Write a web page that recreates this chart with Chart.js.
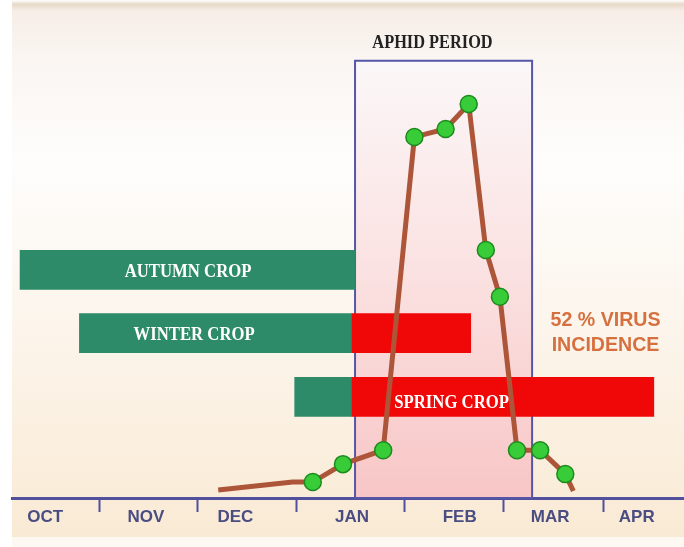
<!DOCTYPE html>
<html>
<head>
<meta charset="utf-8">
<script src="https://cdn.jsdelivr.net/npm/chart.js@4.4.1/dist/chart.umd.min.js"></script>
<style>
  body { margin: 0; background: #fff; }
  canvas { display: block; }
</style>
</head>
<body>
<canvas id="aphidChart" width="684" height="547"></canvas>
<script>
// x is in months from the start of October, y is relative aphid numbers (0-100)
const months = ['OCT', 'NOV', 'DEC', 'JAN', 'FEB', 'MAR', 'APR'];
const monthLabelPos = [0.45, 1.45, 2.34, 3.50, 4.57, 5.47, 6.33];
const monthTicks = [0.99, 1.96, 2.95, 4.02, 5.01, 6.0];

const aphidX = [2.17, 2.91, 3.11, 3.41, 3.81, 4.12, 4.43, 4.66, 4.83, 4.97, 5.14, 5.37, 5.62, 5.70];
const aphidY = [1.6, 3.2, 3.2, 6.8, 9.6, 72.5, 74.1, 79.1, 49.8, 40.4, 9.6, 9.6, 4.8, 1.4];
const aphidMarked = [false, false, true, true, true, true, true, true, true, true, true, true, true, false];

const crops = ['AUTUMN CROP', 'WINTER CROP', 'SPRING CROP'];
const cropRow = [45.8, 33.1, 20.3];
const cropStart = [0.20, 0.79, 2.93];
const cropInfected = [null, [3.50, 4.68], [3.50, 6.50]];

const aphidPeriod = [3.53, 5.29];
const aphidPeriodTop = 87.8;

const virusNote = ['52 % VIRUS', 'INCIDENCE'];

const greenBars = crops.map((c, i) => ({ y: cropRow[i], x: [cropStart[i], aphidPeriod[0] - (cropInfected[i] ? 0.03 : 0)] }));
const redBars = [];
crops.forEach((c, i) => {
  if (cropInfected[i]) redBars.push({ y: cropRow[i], x: cropInfected[i] });
});

function narrowText(ctx, text, x, y, font, color, sx) {
  ctx.save();
  ctx.font = font;
  ctx.fillStyle = color;
  ctx.textAlign = 'center';
  ctx.textBaseline = 'middle';
  ctx.translate(x, y);
  ctx.scale(sx, 1);
  ctx.fillText(text, 0, 0);
  ctx.restore();
}

const backdrop = {
  id: 'backdrop',
  beforeDraw(chart) {
    const ctx = chart.ctx;
    const w = chart.width, h = chart.height;
    ctx.save();
    ctx.fillStyle = '#ffffff';
    ctx.fillRect(0, 0, w, h);
    const g = ctx.createLinearGradient(0, 0, 0, 537);
    g.addColorStop(0, '#ffffff');
    g.addColorStop(0.008, '#e6d9c8');
    g.addColorStop(0.02, '#f6ede6');
    g.addColorStop(0.1, '#faf5f1');
    g.addColorStop(0.3, '#fefdfc');
    g.addColorStop(0.6, '#fcf5ec');
    g.addColorStop(1, '#f9ead4');
    ctx.fillStyle = g;
    ctx.fillRect(12, 0, w - 12, 537);
    ctx.fillStyle = '#fdf9f2';
    ctx.fillRect(12, 537, w - 12, h - 537);
    ctx.restore();
  },
  beforeDatasetsDraw(chart) {
    const { ctx, scales: { x, y } } = chart;
    const left = x.getPixelForValue(aphidPeriod[0]);
    const right = x.getPixelForValue(aphidPeriod[1]);
    const top = y.getPixelForValue(aphidPeriodTop);
    const bottom = y.getPixelForValue(0);
    ctx.save();
    const g = ctx.createLinearGradient(0, top, 0, bottom);
    g.addColorStop(0, '#fbf7f8');
    g.addColorStop(0.45, '#fbe3e3');
    g.addColorStop(1, '#f8c6c6');
    ctx.fillStyle = g;
    ctx.fillRect(left, top, right - left, bottom - top);
    ctx.strokeStyle = '#5656a6';
    ctx.lineWidth = 2;
    ctx.strokeRect(left, top, right - left, bottom - top);
    ctx.restore();
  },
  afterDatasetsDraw(chart) {
    const { ctx, scales: { x, y } } = chart;
    const serif = 'bold 19px "Liberation Serif", "DejaVu Serif", serif';
    narrowText(ctx, 'APHID PERIOD', x.getPixelForValue(4.30), y.getPixelForValue(91.4), serif, '#222222', 0.86);
    const labelX = [1.87, 1.93, 4.49];
    const labelY = [45.4, 32.7, 19.1];
    crops.forEach((c, i) => {
      narrowText(ctx, c, x.getPixelForValue(labelX[i]), y.getPixelForValue(labelY[i]), serif, '#ffffff', 0.88);
    });
    const sans = 'bold 20px "Liberation Sans", Arial, sans-serif';
    narrowText(ctx, virusNote[0], x.getPixelForValue(6.02), y.getPixelForValue(35.7), sans, '#d6703f', 0.98);
    narrowText(ctx, virusNote[1], x.getPixelForValue(6.02), y.getPixelForValue(30.7), sans, '#d6703f', 0.98);
  }
};

const isLabelPos = v => monthLabelPos.some(p => Math.abs(p - v) < 1e-6);
const axisColor = '#50509c';

new Chart(document.getElementById('aphidChart'), {
  data: {
    datasets: [
      {
        type: 'line',
        label: 'Aphids',
        data: aphidX.map((v, i) => ({ x: v, y: aphidY[i] })),
        borderColor: '#ad5538',
        borderWidth: 5,
        tension: 0,
        pointRadius: ctx => aphidMarked[ctx.dataIndex] ? 8.5 : 0,
        pointBackgroundColor: '#38cc38',
        pointBorderColor: '#1d8a1d',
        pointBorderWidth: 1.5,
        order: 0
      },
      {
        type: 'bar',
        label: 'Crop',
        indexAxis: 'y',
        data: greenBars,
        backgroundColor: '#2e8b69',
        barThickness: 39,
        grouped: false,
        order: 2
      },
      {
        type: 'bar',
        label: 'Infected',
        indexAxis: 'y',
        data: redBars,
        backgroundColor: '#f00808',
        barThickness: 39,
        grouped: false,
        order: 1
      }
    ]
  },
  options: {
    responsive: false,
    animation: false,
    layout: { autoPadding: false, padding: { left: 12, right: 0, top: 0, bottom: 0 } },
    plugins: {
      legend: { display: false },
      tooltip: { enabled: false }
    },
    scales: {
      x: {
        type: 'linear',
        position: 'bottom',
        offset: false,
        min: 0.12,
        max: 6.8,
        afterBuildTicks: scale => {
          scale.ticks = monthTicks.concat(monthLabelPos).sort((a, b) => a - b).map(v => ({ value: v }));
        },
        afterFit: scale => { scale.height = 49; },
        border: { display: true, color: axisColor, width: 3 },
        grid: {
          offset: false,
          drawOnChartArea: false,
          drawTicks: true,
          tickLength: 14,
          tickWidth: 2,
          tickColor: ctx => isLabelPos(ctx.tick.value) ? 'rgba(0,0,0,0)' : axisColor
        },
        ticks: {
          autoSkip: false,
          maxRotation: 0,
          padding: -5,
          color: '#4a4d82',
          font: { family: '"Liberation Sans Narrow", "Liberation Sans", Arial, sans-serif', size: 17, weight: 'bold' },
          callback: v => {
            const i = monthLabelPos.findIndex(p => Math.abs(p - v) < 1e-6);
            return i >= 0 ? months[i] : '';
          }
        }
      },
      y: {
        type: 'linear',
        display: false,
        offset: false,
        grid: { offset: false },
        min: 0,
        max: 100
      }
    }
  },
  plugins: [backdrop]
});
</script>
</body>
</html>
